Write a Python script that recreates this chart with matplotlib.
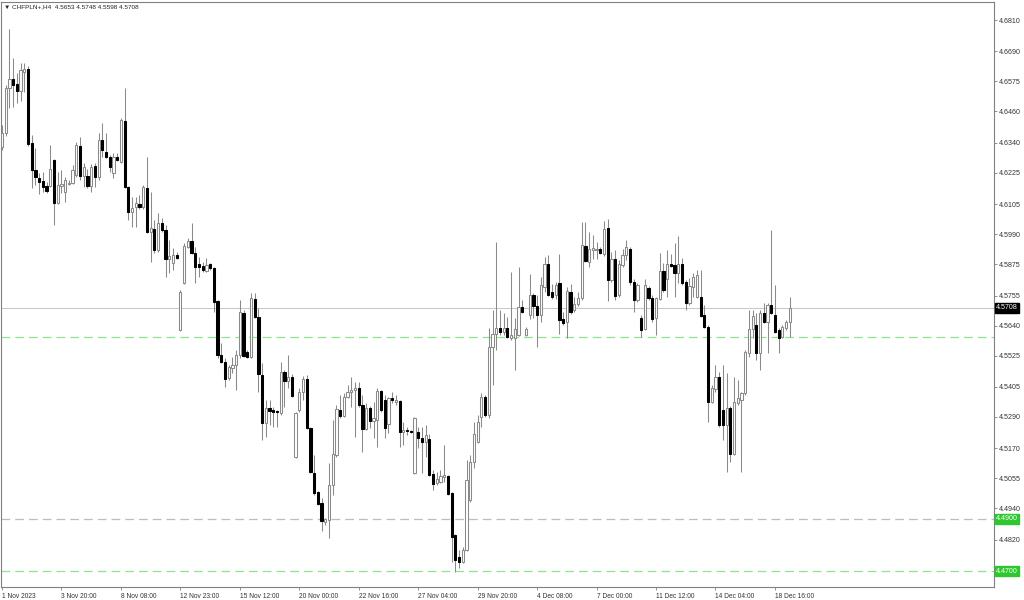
import matplotlib.pyplot as plt
import numpy as np

# CHFPLN+ H4 candles (1 Nov - 19 Dec 2023)
opens = [
    4.6324, 4.6377, 4.6550, 4.6584, 4.6565, 4.6538, 4.6611, 4.6622, 4.6339, 4.6236,
    4.6205, 4.6194, 4.6174, 4.6174, 4.6274, 4.6109, 4.6174, 4.6151, 4.6182, 4.6186,
    4.6217, 4.6328, 4.6213, 4.6213, 4.6174, 4.6251, 4.6209, 4.6351, 4.6305, 4.6286,
    4.6224, 4.6286, 4.6266, 4.6423, 4.6171, 4.6075, 4.6094, 4.6106, 4.6094, 4.6167,
    4.5998, 4.6010, 4.5929, 4.6033, 4.6006, 4.5895, 4.5880, 4.5910, 4.5623, 4.5803,
    4.5941, 4.5964, 4.5918, 4.5876, 4.5868, 4.5849, 4.5876, 4.5860, 4.5734, 4.5527,
    4.5501, 4.5439, 4.5478, 4.5489, 4.5527, 4.5688, 4.5539, 4.5520, 4.5742, 4.5673,
    4.5451, 4.5267, 4.5324, 4.5317, 4.5313, 4.5305, 4.5462, 4.5428, 4.5443, 4.5137,
    4.5317, 4.5386, 4.5435, 4.5248, 4.5075, 4.5003, 4.4961, 4.4888, 4.4896, 4.5030,
    4.5144, 4.5317, 4.5294, 4.5367, 4.5386, 4.5393, 4.5401, 4.5336, 4.5244, 4.5324,
    4.5275, 4.5278, 4.5390, 4.5355, 4.5263, 4.5363, 4.5347, 4.5351, 4.5232, 4.5240,
    4.5236, 4.5075, 4.5232, 4.5210, 4.5194, 4.5206, 4.5072, 4.5037, 4.5041, 4.5060,
    4.5064, 4.4999, 4.4838, 4.4754, 4.4735, 4.4781, 4.4972, 4.5118, 4.5194, 4.5290,
    4.5367, 4.5298, 4.5558, 4.5608, 4.5631, 4.5615, 4.5631, 4.5592, 4.5592, 4.5604,
    4.5711, 4.5604, 4.5681, 4.5757, 4.5715, 4.5681, 4.5788, 4.5876, 4.5769, 4.5757,
    4.5803, 4.5665, 4.5654, 4.5769, 4.5700, 4.5723, 4.5746, 4.5945, 4.5883, 4.5929,
    4.5929, 4.5933, 4.5914, 4.6014, 4.5815, 4.5895, 4.5757, 4.5872, 4.5910, 4.5933,
    4.5807, 4.5738, 4.5669, 4.5627, 4.5784, 4.5746, 4.5669, 4.5742, 4.5849, 4.5818,
    4.5876, 4.5872, 4.5841, 4.5876, 4.5807, 4.5726, 4.5788, 4.5749, 4.5749, 4.5681,
    4.5635, 4.5347, 4.5397, 4.5443, 4.5317, 4.5259, 4.5324, 4.5148, 4.5344, 4.5355,
    4.5382, 4.5535, 4.5627, 4.5642, 4.5535, 4.5688, 4.5654, 4.5719, 4.5681, 4.5623,
    4.5596, 4.5631, 4.5653,
]
highs = [
    4.6408, 4.6561, 4.6776, 4.6665, 4.6607, 4.6645, 4.6645, 4.6634, 4.6370, 4.6320,
    4.6224, 4.6228, 4.6190, 4.6332, 4.6278, 4.6228, 4.6236, 4.6209, 4.6197, 4.6255,
    4.6343, 4.6362, 4.6263, 4.6240, 4.6259, 4.6263, 4.6377, 4.6416, 4.6377, 4.6293,
    4.6301, 4.6301, 4.6435, 4.6550, 4.6174, 4.6132, 4.6132, 4.6140, 4.6178, 4.6286,
    4.6151, 4.6044, 4.6071, 4.6052, 4.6025, 4.5968, 4.5937, 4.5922, 4.5776, 4.5956,
    4.5975, 4.6033, 4.5941, 4.5903, 4.5883, 4.5899, 4.5880, 4.5864, 4.5738, 4.5573,
    4.5516, 4.5489, 4.5520, 4.5546, 4.5738, 4.5700, 4.5546, 4.5765, 4.5765, 4.5707,
    4.5497, 4.5355, 4.5355, 4.5328, 4.5317, 4.5501, 4.5470, 4.5527, 4.5455, 4.5309,
    4.5401, 4.5447, 4.5451, 4.5252, 4.5144, 4.5007, 4.4980, 4.4903, 4.5114, 4.5278,
    4.5336, 4.5374, 4.5382, 4.5412, 4.5443, 4.5424, 4.5424, 4.5374, 4.5344, 4.5332,
    4.5347, 4.5401, 4.5393, 4.5374, 4.5367, 4.5386, 4.5374, 4.5355, 4.5271, 4.5252,
    4.5240, 4.5290, 4.5252, 4.5252, 4.5259, 4.5225, 4.5087, 4.5079, 4.5087, 4.5183,
    4.5068, 4.5003, 4.4842, 4.4781, 4.4792, 4.5125, 4.5144, 4.5271, 4.5298, 4.5382,
    4.5374, 4.5631, 4.5700, 4.5960, 4.5700, 4.5688, 4.5673, 4.5845, 4.5669, 4.5864,
    4.5738, 4.5635, 4.5838, 4.5765, 4.5757, 4.5826, 4.5903, 4.5910, 4.5799, 4.5807,
    4.5914, 4.5692, 4.5788, 4.5799, 4.5749, 4.5769, 4.6037, 4.6037, 4.5998, 4.5987,
    4.5960, 4.5941, 4.6040, 4.6048, 4.5922, 4.5929, 4.5891, 4.5933, 4.5968, 4.5941,
    4.5818, 4.5803, 4.5681, 4.5818, 4.5792, 4.5757, 4.5749, 4.5918, 4.5880, 4.5929,
    4.5914, 4.5956, 4.5983, 4.5899, 4.5815, 4.5822, 4.5841, 4.5853, 4.5853, 4.5719,
    4.5642, 4.5412, 4.5489, 4.5462, 4.5489, 4.5458, 4.5332, 4.5443, 4.5432, 4.5386,
    4.5546, 4.5700, 4.5700, 4.5688, 4.5700, 4.5726, 4.5726, 4.6006, 4.5795, 4.5631,
    4.5642, 4.5661, 4.5748,
]
lows = [
    4.6312, 4.6366, 4.6473, 4.6477, 4.6492, 4.6500, 4.6534, 4.6328, 4.6167, 4.6178,
    4.6144, 4.6151, 4.6148, 4.6171, 4.6025, 4.6106, 4.6148, 4.6113, 4.6178, 4.6182,
    4.6209, 4.6197, 4.6171, 4.6167, 4.6151, 4.6171, 4.6197, 4.6286, 4.6282, 4.6228,
    4.6205, 4.6270, 4.6263, 4.6167, 4.6044, 4.6017, 4.6017, 4.6086, 4.6086, 4.5994,
    4.5883, 4.5918, 4.5922, 4.5998, 4.5826, 4.5841, 4.5853, 4.5895, 4.5619, 4.5799,
    4.5937, 4.5914, 4.5803, 4.5826, 4.5845, 4.5845, 4.5853, 4.5692, 4.5516, 4.5497,
    4.5405, 4.5432, 4.5458, 4.5393, 4.5516, 4.5520, 4.5516, 4.5516, 4.5669, 4.5386,
    4.5202, 4.5213, 4.5259, 4.5252, 4.5252, 4.5298, 4.5328, 4.5401, 4.5367, 4.5133,
    4.5309, 4.5355, 4.5244, 4.5075, 4.4991, 4.4953, 4.4853, 4.4876, 4.4827, 4.4991,
    4.5137, 4.5286, 4.5290, 4.5363, 4.5328, 4.5213, 4.5328, 4.5156, 4.5240, 4.5248,
    4.5210, 4.5175, 4.5309, 4.5210, 4.5229, 4.5344, 4.5336, 4.5175, 4.5183, 4.5221,
    4.5229, 4.5072, 4.5171, 4.5075, 4.5137, 4.5064, 4.5010, 4.5030, 4.5037, 4.5041,
    4.4991, 4.4735, 4.4696, 4.4712, 4.4731, 4.4777, 4.4964, 4.5095, 4.5190, 4.5252,
    4.5290, 4.5286, 4.5412, 4.5546, 4.5604, 4.5604, 4.5592, 4.5585, 4.5470, 4.5600,
    4.5688, 4.5600, 4.5665, 4.5669, 4.5558, 4.5654, 4.5769, 4.5753, 4.5742, 4.5742,
    4.5608, 4.5642, 4.5592, 4.5684, 4.5692, 4.5715, 4.5738, 4.5883, 4.5864, 4.5895,
    4.5895, 4.5914, 4.5906, 4.5734, 4.5807, 4.5738, 4.5749, 4.5864, 4.5891, 4.5795,
    4.5692, 4.5730, 4.5596, 4.5623, 4.5738, 4.5654, 4.5604, 4.5738, 4.5769, 4.5749,
    4.5864, 4.5749, 4.5803, 4.5795, 4.5700, 4.5719, 4.5749, 4.5746, 4.5673, 4.5631,
    4.5271, 4.5344, 4.5386, 4.5252, 4.5202, 4.5079, 4.5118, 4.5144, 4.5336, 4.5079,
    4.5374, 4.5520, 4.5592, 4.5508, 4.5470, 4.5650, 4.5535, 4.5684, 4.5612, 4.5535,
    4.5592, 4.5623, 4.5598,
]
closes = [
    4.6377, 4.6550, 4.6584, 4.6561, 4.6538, 4.6619, 4.6622, 4.6335, 4.6236, 4.6209,
    4.6190, 4.6171, 4.6155, 4.6240, 4.6109, 4.6178, 4.6182, 4.6197, 4.6186, 4.6236,
    4.6332, 4.6213, 4.6247, 4.6174, 4.6247, 4.6209, 4.6351, 4.6312, 4.6286, 4.6247,
    4.6286, 4.6274, 4.6427, 4.6171, 4.6075, 4.6090, 4.6109, 4.6094, 4.6171, 4.5998,
    4.6014, 4.5929, 4.6033, 4.6006, 4.5895, 4.5906, 4.5910, 4.5899, 4.5769, 4.5945,
    4.5964, 4.5918, 4.5864, 4.5864, 4.5853, 4.5872, 4.5860, 4.5730, 4.5527, 4.5501,
    4.5435, 4.5481, 4.5489, 4.5527, 4.5692, 4.5523, 4.5520, 4.5746, 4.5673, 4.5455,
    4.5267, 4.5324, 4.5313, 4.5309, 4.5309, 4.5462, 4.5428, 4.5443, 4.5370, 4.5305,
    4.5386, 4.5435, 4.5248, 4.5079, 4.4999, 4.4957, 4.4892, 4.4899, 4.5030, 4.5148,
    4.5321, 4.5294, 4.5367, 4.5386, 4.5393, 4.5401, 4.5336, 4.5244, 4.5324, 4.5275,
    4.5286, 4.5390, 4.5317, 4.5248, 4.5363, 4.5355, 4.5355, 4.5232, 4.5240, 4.5236,
    4.5232, 4.5286, 4.5210, 4.5194, 4.5221, 4.5068, 4.5033, 4.5053, 4.5064, 4.5068,
    4.4995, 4.4830, 4.4742, 4.4735, 4.4781, 4.5049, 4.5118, 4.5225, 4.5271, 4.5367,
    4.5298, 4.5558, 4.5608, 4.5631, 4.5615, 4.5631, 4.5596, 4.5604, 4.5627, 4.5711,
    4.5692, 4.5627, 4.5757, 4.5715, 4.5681, 4.5795, 4.5876, 4.5757, 4.5749, 4.5795,
    4.5661, 4.5650, 4.5772, 4.5692, 4.5723, 4.5746, 4.5949, 4.5887, 4.5933, 4.5937,
    4.5933, 4.5918, 4.6010, 4.5815, 4.5895, 4.5753, 4.5876, 4.5910, 4.5941, 4.5807,
    4.5738, 4.5795, 4.5623, 4.5795, 4.5746, 4.5665, 4.5746, 4.5849, 4.5776, 4.5876,
    4.5868, 4.5841, 4.5876, 4.5803, 4.5726, 4.5792, 4.5826, 4.5834, 4.5677, 4.5635,
    4.5347, 4.5401, 4.5443, 4.5259, 4.5259, 4.5324, 4.5148, 4.5347, 4.5363, 4.5382,
    4.5539, 4.5627, 4.5677, 4.5535, 4.5688, 4.5654, 4.5719, 4.5688, 4.5615, 4.5592,
    4.5635, 4.5654, 4.5708,
]

date_labels = ["1 Nov 2023", "3 Nov 20:00", "8 Nov 08:00", "12 Nov 23:00", "15 Nov 12:00",
               "20 Nov 00:00", "22 Nov 16:00", "27 Nov 04:00", "29 Nov 20:00", "4 Dec 08:00",
               "7 Dec 00:00", "11 Dec 12:00", "14 Dec 04:00", "18 Dec 16:00"]
price_ticks = [4.6810, 4.6690, 4.6575, 4.6460, 4.6340, 4.6225, 4.6105, 4.5990, 4.5875,
               4.5755, 4.5640, 4.5525, 4.5405, 4.5290, 4.5170, 4.5055, 4.4940, 4.4820]
last_price = 4.5708
green_level = 4.5597
level_1 = 4.4900
level_2 = 4.4700
header = "CHFPLN+,H4  4.5653 4.5748 4.5598 4.5708"

plt.rcParams["font.family"] = ["Liberation Sans", "DejaVu Sans"]

o = np.array(opens)
h = np.array(highs)
l = np.array(lows)
c = np.array(closes)
idx = np.arange(len(o))
up = c >= o

fig = plt.figure(figsize=(10.24, 6.0), dpi=100)
ax = fig.add_axes([1 / 1024, 13 / 600, 993 / 1024, 585 / 600])

# level lines
ax.axhline(last_price, color="#c8c8c8", lw=0.75, zorder=1)
ax.axhline(green_level, color="#8fe58f", lw=0.9, ls=(0, (7, 4)), zorder=1)
ax.axhline(level_1, color="#bdbdbd", lw=0.9, ls=(0, (7, 4)), zorder=1)
ax.axhline(level_2, color="#8fe58f", lw=0.9, ls=(0, (7, 4)), zorder=1)

# candles
ax.vlines(idx, l, h, color="#8a8a8a", lw=0.75, zorder=2)
ax.bar(idx[up], (c - o)[up], bottom=o[up], width=0.6, color="white",
       edgecolor="#8a8a8a", linewidth=0.75, zorder=3)
ax.bar(idx[~up], (c - o)[~up], bottom=o[~up], width=0.6, color="black",
       edgecolor="black", linewidth=0.75, zorder=3)

ax.set_xlim(-0.27, 266.95)
ax.set_ylim(4.4639, 4.6879)

# price axis on the right
ax.yaxis.tick_right()
ax.set_yticks(price_ticks)
ax.set_yticklabels([f"{p:.4f}" for p in price_ticks])
ax.tick_params(axis="y", length=2.5, width=0.6, color="#808080", pad=1.2,
               labelsize=5.1, labelcolor="#333333")

# time axis
ax.set_xticks(np.arange(len(date_labels)) * 16)
ax.set_xticklabels(date_labels)
for lab in ax.get_xticklabels():
    lab.set_horizontalalignment("left")
ax.tick_params(axis="x", length=2.5, width=0.6, color="#808080", pad=1.5,
               labelsize=4.8, labelcolor="#333333")

for sp in ax.spines.values():
    sp.set_color("#808080")
    sp.set_linewidth(0.8)

# boxed price labels
ytr = ax.get_yaxis_transform()
for val, bg in [(last_price, "black"), (level_1, "#2ec82e"), (level_2, "#2ec82e")]:
    ax.text(1.002, val, f"{val:.4f}", transform=ytr, ha="left", va="center",
            fontsize=5.1, color="white", clip_on=False, zorder=5,
            bbox=dict(boxstyle="square,pad=0.18", fc=bg, ec=bg))

# header
fig.text(4 / 1024, 1 - 6.5 / 600, "\u25bc " + header, ha="left", va="center",
         fontsize=4.6, color="#222222")

fig.savefig("out.png", dpi=100)
